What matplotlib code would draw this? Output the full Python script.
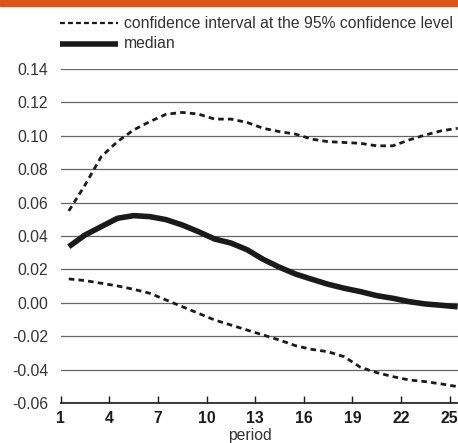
import matplotlib.pyplot as plt
import numpy as np

plt.rcParams['font.family'] = ['Liberation Sans', 'DejaVu Sans']

periods = np.arange(1, 26)

upper = np.array([
    0.0550, 0.0705, 0.0875, 0.0965, 0.1035, 0.1085, 0.1129, 0.1140, 0.1130,
    0.1100, 0.1100, 0.1080, 0.1045, 0.1025, 0.1010, 0.0980, 0.0965, 0.0960,
    0.0955, 0.0940, 0.0940, 0.0975, 0.1005, 0.1030, 0.1045,
])

median = np.array([
    0.0336, 0.0406, 0.0456, 0.0506, 0.0522, 0.0516, 0.0498, 0.0466, 0.0426,
    0.0382, 0.0358, 0.0318, 0.0260, 0.0213, 0.0172, 0.0141, 0.0111, 0.0087,
    0.0067, 0.0043, 0.0027, 0.0007, -0.0007, -0.0015, -0.0024,
])

lower = np.array([
    0.0143, 0.0133, 0.0117, 0.0101, 0.0081, 0.0057, 0.0017, -0.0023, -0.0063,
    -0.0103, -0.0133, -0.0163, -0.0193, -0.0223, -0.0257, -0.0279, -0.0293,
    -0.0323, -0.0386, -0.0418, -0.0442, -0.0462, -0.0472, -0.0486, -0.0502,
])

xticks = [1, 4, 7, 10, 13, 16, 19, 22, 25]
yticks = np.arange(-0.06, 0.141, 0.02)

fs = 11.3
fig = plt.figure(figsize=(4.58, 4.43), dpi=100)
ax = fig.add_axes([60.7 / 458, 1 - 403 / 443, 1 - 60.7 / 458, (403 - 69) / 443])

# orange band on top
fig.patches.append(plt.Rectangle((0, 1 - 5.5 / 443), 1, 5.5 / 443,
                                 transform=fig.transFigure, color='#de5319', zorder=0))

x = periods + 0.5
ax.plot(x, upper, color='#1a1a1a', lw=2, dashes=(2, 1.5))
ax.plot(x, lower, color='#1a1a1a', lw=2, dashes=(2, 1.5))
ax.plot(x, median, color='#1a1a1a', lw=4, solid_capstyle='butt')

ax.set_xlim(1, 25.52)
ax.set_ylim(-0.06, 0.14)
ax.set_yticks(yticks)
ax.set_yticklabels([f'{v:.2f}'.replace('-0.00', '0.00') for v in yticks], fontsize=fs, color='#333333')
ax.set_xticks(xticks)
ax.set_xticklabels([str(t) for t in xticks], fontsize=fs, fontweight='bold', color='#1a1a1a')

ax.grid(axis='y', color='#666666', lw=0.9)
ax.set_axisbelow(True)
for s in ['top', 'right', 'left']:
    ax.spines[s].set_visible(False)
ax.spines['bottom'].set_color('#1a1a1a')
ax.spines['bottom'].set_linewidth(1.2)
ax.tick_params(axis='y', length=0, pad=9)
ax.tick_params(axis='x', direction='in', length=5, width=1, color='#1a1a1a', pad=6)

# legend
fig.add_artist(plt.Line2D([60 / 458, 118 / 458], [1 - 23 / 443] * 2, transform=fig.transFigure,
                          color='#1a1a1a', lw=1.6, dashes=(2.2, 1.4)))
fig.text(124 / 458, 1 - 23 / 443, 'confidence interval at the 95% confidence level',
         fontsize=fs, color='#333333', va='center')
fig.add_artist(plt.Line2D([60 / 458, 118 / 458], [1 - 44 / 443] * 2, transform=fig.transFigure,
                          color='#1a1a1a', lw=4, solid_capstyle='butt'))
fig.text(124 / 458, 1 - 44 / 443, 'median', fontsize=fs, color='#333333', va='center')

fig.text(250 / 458, 1 - 428 / 443, 'period', fontsize=fs, color='#333333', ha='center', va='top')

fig.savefig('out.png', dpi=100)
